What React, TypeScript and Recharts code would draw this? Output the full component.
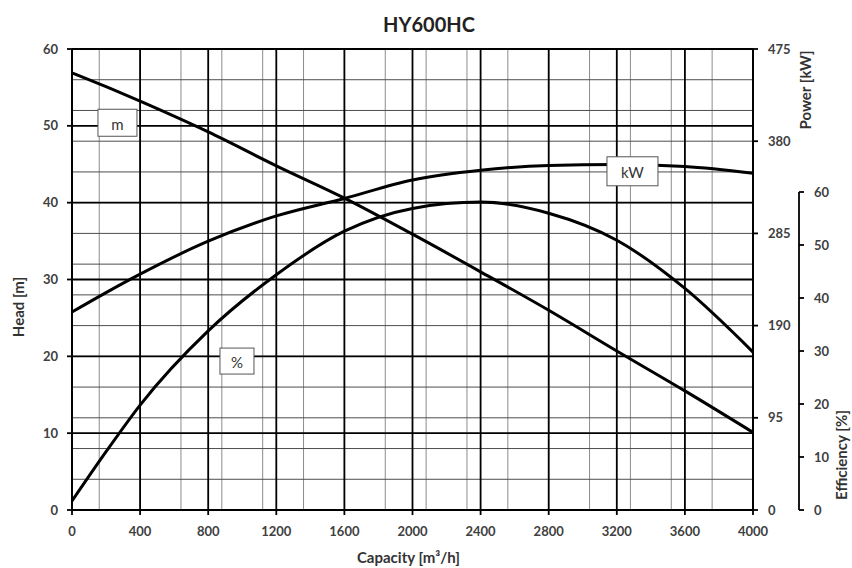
import {
  CartesianGrid,
  Line,
  LineChart,
  ReferenceDot,
  XAxis,
  YAxis,
} from "recharts";

// pump curve readings for HY600HC
const capacity = [0, 200, 400, 800, 1200, 1600, 2000, 2400, 2800, 3200, 3600, 4000];
const headM = [56.9, 55.1, 53.2, 49.2, 44.8, 40.6, 35.9, 31.0, 26.0, 20.7, 15.5, 10.1];
const powerKW = [204, 224, 243, 277, 303, 321, 340, 350, 355, 356, 354, 347];
const efficiencyPct = [1.7, 11.0, 19.8, 33.8, 44.4, 52.6, 56.9, 58.1, 56.0, 50.9, 41.8, 29.8];

const capacityTicks = [0, 400, 800, 1200, 1600, 2000, 2400, 2800, 3200, 3600, 4000];
const headTicks = [0, 10, 20, 30, 40, 50, 60];
const powerTicks = [0, 95, 190, 285, 380, 475];
const efficiencyTicks = [0, 10, 20, 30, 40, 50, 60];

const minorCapacity = Array.from({ length: 51 }, (_, i) => i * 80);
const minorHead = Array.from({ length: 31 }, (_, i) => i * 2);

// where the curve tags sit, in data units
const headTag = { capacity: 267, value: 50.4 };
const powerTag = { capacity: 3292, value: 349 };
const effTag = { capacity: 969, value: 28.1 };

const rows = capacity.map((c, i) => ({
  capacity: c,
  head: headM[i],
  power: powerKW[i],
  eff: efficiencyPct[i],
}));

const FONT = "Lato, 'Open Sans', sans-serif";
const tickStyle = { fontSize: 13, fontWeight: 700, fill: "#404040", fontFamily: FONT };

const tag = (text: string, w: number, h: number) => (p: any) => (
  <g>
    <rect
      x={p.cx - w / 2}
      y={p.cy - h / 2}
      width={w}
      height={h}
      fill="#fff"
      stroke="#555"
      strokeWidth={1}
    />
    <text
      x={p.cx}
      y={p.cy + 1}
      textAnchor="middle"
      dominantBaseline="central"
      fontFamily={FONT}
      fontSize={15}
      fill="#333"
    >
      {text}
    </text>
  </g>
);

const vTitle = (text: string, dx: number, dy: (vb: any) => number) => (props: any) => {
  const vb = props.viewBox;
  const x = vb.x + dx;
  const y = dy(vb);
  return (
    <text
      x={x}
      y={y}
      transform={`rotate(-90 ${x} ${y})`}
      textAnchor="middle"
      dominantBaseline="central"
      fontFamily={FONT}
      fontSize={15}
      fontWeight={700}
      fill="#333"
    >
      {text}
    </text>
  );
};

const xTitle = (props: any) => {
  const vb = props.viewBox;
  return (
    <text
      x={vb.x + vb.width / 2 - 4}
      y={vb.y + 47}
      textAnchor="middle"
      dominantBaseline="central"
      fontFamily={FONT}
      fontSize={15}
      fontWeight={700}
      fill="#333"
    >
      Capacity [m³/h]
    </text>
  );
};

export default function App() {
  return (
    <div style={{ position: "relative", width: 852, height: 568, background: "#fff" }}>
      <style>{"body{margin:0}"}</style>
      <div
        style={{
          position: "absolute",
          left: 0,
          width: 858,
          top: 12,
          textAlign: "center",
          fontFamily: FONT,
          fontWeight: 700,
          fontSize: 20,
          lineHeight: "24px",
          color: "#222",
        }}
      >
        HY600HC
      </div>

      <LineChart
        width={852}
        height={568}
        data={rows}
        margin={{ top: 49, right: 53, bottom: 28, left: 12 }}
        style={{ position: "absolute", left: 0, top: 0 }}
      >
        <CartesianGrid
          yAxisId="head"
          horizontal={false}
          verticalValues={minorCapacity}
          stroke="#8c8c8c"
          strokeWidth={1}
        />
        <CartesianGrid
          yAxisId="head"
          vertical={false}
          horizontalValues={minorHead}
          stroke="#4d4d4d"
          strokeWidth={1}
        />
        <CartesianGrid
          yAxisId="head"
          verticalValues={capacityTicks}
          horizontalValues={headTicks}
          stroke="#000"
          strokeWidth={1.8}
        />
        <XAxis
          dataKey="capacity"
          type="number"
          domain={[0, 4000]}
          ticks={capacityTicks}
          height={30}
          tickSize={5}
          tickMargin={12}
          tick={tickStyle}
          stroke="#000"
          strokeWidth={1.8}
          label={{ content: xTitle }}
        />
        <YAxis
          yAxisId="head"
          domain={[0, 60]}
          ticks={headTicks}
          width={60}
          tickSize={5}
          tickMargin={9}
          tick={tickStyle}
          stroke="#000"
          strokeWidth={1.8}
          label={{ content: vTitle("Head [m]", 6, (vb) => vb.y + 258) }}
        />
        <YAxis
          yAxisId="power"
          orientation="right"
          domain={[0, 475]}
          ticks={powerTicks}
          width={46}
          tickSize={5}
          tickMargin={10}
          tick={{ ...tickStyle, textAnchor: "start" }}
          stroke="#000"
          strokeWidth={1.8}
          label={{ content: vTitle("Power [kW]", 52, (vb) => vb.y + 41) }}
        />
        <Line
          yAxisId="head"
          type="monotone"
          dataKey="head"
          stroke="#000"
          strokeWidth={3}
          dot={false}
          isAnimationActive={false}
        />
        <Line
          yAxisId="power"
          type="monotone"
          dataKey="power"
          stroke="#000"
          strokeWidth={3}
          dot={false}
          isAnimationActive={false}
        />
        <ReferenceDot
          yAxisId="head"
          x={headTag.capacity}
          y={headTag.value}
          shape={tag("m", 39, 27)}
        />
        <ReferenceDot
          yAxisId="power"
          x={powerTag.capacity}
          y={powerTag.value}
          shape={tag("kW", 51, 29)}
        />
      </LineChart>

      <LineChart
        width={852}
        height={568}
        data={rows}
        margin={{ top: 192, right: 0, bottom: 58, left: 72 }}
        style={{ position: "absolute", left: 0, top: 0, pointerEvents: "none" }}
      >
        <XAxis dataKey="capacity" type="number" domain={[0, 4000]} hide />
        <YAxis
          yAxisId="r1"
          orientation="right"
          domain={[0, 1]}
          width={46}
          axisLine={false}
          tickLine={false}
          tick={false}
        />
        <YAxis
          yAxisId="r2"
          orientation="right"
          domain={[0, 60]}
          ticks={efficiencyTicks}
          width={53}
          tickSize={5}
          tickMargin={10}
          tick={{ ...tickStyle, textAnchor: "start" }}
          stroke="#000"
          strokeWidth={1.8}
          label={{ content: vTitle("Efficiency [%]", 42, (vb) => vb.y + vb.height - 55) }}
        />
        <Line
          yAxisId="r2"
          type="monotone"
          dataKey="eff"
          stroke="#000"
          strokeWidth={3}
          dot={false}
          isAnimationActive={false}
        />
        <ReferenceDot
          yAxisId="r2"
          x={effTag.capacity}
          y={effTag.value}
          shape={tag("%", 34, 26)}
        />
      </LineChart>
    </div>
  );
}
